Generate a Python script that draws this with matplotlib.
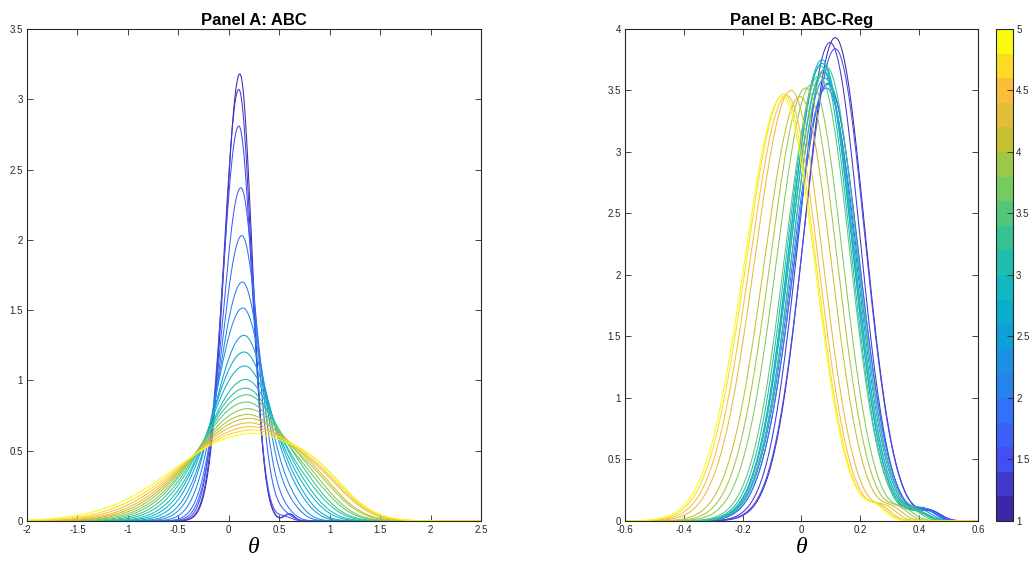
import numpy as np
import matplotlib
matplotlib.use("Agg")
import matplotlib.pyplot as plt
from matplotlib.colors import LinearSegmentedColormap, ListedColormap, Normalize
from matplotlib.cm import ScalarMappable

# ---------------- data ----------------
levels = [1.0, 1.2, 1.4, 1.6, 1.8, 2.0, 2.2, 2.4, 2.6, 2.8, 3.0,
          3.2, 3.4, 3.6, 3.8, 4.0, 4.2, 4.4, 4.6, 4.8, 5.0]

# Panel A: ABC  (peak height, peak location, left/right spread, right shoulder)
a_height = [3.18, 3.07, 2.81, 2.37, 2.03, 1.70, 1.515, 1.32, 1.20, 1.10, 1.00,
            0.94, 0.89, 0.84, 0.79, 0.75, 0.72, 0.69, 0.66, 0.635, 0.61]
a_center = [0.11, 0.10, 0.10, 0.12, 0.13, 0.135, 0.14, 0.15, 0.15, 0.155, 0.16,
            0.16, 0.165, 0.165, 0.17, 0.17, 0.175, 0.175, 0.18, 0.18, 0.18]
a_left = [0.15, 0.15, 0.16, 0.18, 0.20, 0.23, 0.26, 0.29, 0.32, 0.35, 0.38,
          0.41, 0.44, 0.47, 0.50, 0.53, 0.56, 0.59, 0.63, 0.67, 0.72]
a_right = [0.12, 0.125, 0.13, 0.15, 0.17, 0.20, 0.22, 0.25, 0.27, 0.29, 0.31,
           0.33, 0.35, 0.37, 0.39, 0.41, 0.43, 0.45, 0.47, 0.49, 0.50]
a_sh_height = [0.05, 0.05, 0.03, 0.04, 0.05, 0.07, 0.09, 0.10, 0.11, 0.12, 0.13,
               0.14, 0.15, 0.16, 0.17, 0.18, 0.18, 0.19, 0.19, 0.20, 0.20]
a_sh_center = [0.60, 0.60, 0.55, 0.55, 0.55, 0.60, 0.60, 0.65, 0.65, 0.70, 0.70,
               0.75, 0.75, 0.80, 0.80, 0.85, 0.85, 0.90, 0.90, 0.90, 0.90]
a_sh_width = [0.05, 0.05, 0.07, 0.08, 0.10, 0.12, 0.14, 0.16, 0.18, 0.20, 0.22,
              0.23, 0.24, 0.25, 0.26, 0.27, 0.28, 0.29, 0.30, 0.30, 0.30]

# Panel B: ABC-Reg
b_height = [3.93, 3.89, 3.84, 3.55, 3.52, 3.56, 3.60, 3.65, 3.72, 3.75, 3.70,
            3.66, 3.69, 3.62, 3.55, 3.52, 3.45, 3.50, 3.46, 3.47, 3.45]
b_center = [0.115, 0.097, 0.115, 0.09, 0.085, 0.09, 0.08, 0.075, 0.07, 0.07, 0.065,
            0.075, 0.085, 0.06, 0.035, 0.015, -0.005, -0.035, -0.05, -0.06, -0.065]
b_left = [0.105, 0.105, 0.107, 0.112, 0.113, 0.112, 0.112, 0.112, 0.110, 0.110, 0.112,
          0.113, 0.113, 0.115, 0.118, 0.120, 0.122, 0.124, 0.126, 0.128, 0.130]
b_right = [0.100, 0.100, 0.100, 0.105, 0.105, 0.105, 0.104, 0.103, 0.102, 0.102, 0.102,
           0.103, 0.103, 0.104, 0.105, 0.106, 0.107, 0.108, 0.108, 0.109, 0.110]
b_sh_height = [0.07, 0.07, 0.07, 0.08, 0.08, 0.08, 0.07, 0.06, 0.06, 0.06, 0.06,
               0.06, 0.06, 0.07, 0.07, 0.08, 0.08, 0.09, 0.09, 0.09, 0.09]
b_sh_center = [0.44, 0.43, 0.44, 0.43, 0.42, 0.42, 0.41, 0.40, 0.40, 0.39, 0.39,
               0.39, 0.39, 0.37, 0.35, 0.33, 0.31, 0.29, 0.27, 0.26, 0.25]
b_sh_width = [0.035, 0.035, 0.035, 0.035, 0.035, 0.035, 0.035, 0.035, 0.035, 0.035, 0.035,
              0.035, 0.035, 0.035, 0.035, 0.035, 0.035, 0.035, 0.035, 0.035, 0.035]

a_xticks = [-2, -1.5, -1, -0.5, 0, 0.5, 1, 1.5, 2, 2.5]
a_yticks = [0, 0.5, 1, 1.5, 2, 2.5, 3, 3.5]
b_xticks = [-0.6, -0.4, -0.2, 0, 0.2, 0.4, 0.6]
b_yticks = [0, 0.5, 1, 1.5, 2, 2.5, 3, 3.5, 4]
cb_ticks = [1, 1.5, 2, 2.5, 3, 3.5, 4, 4.5, 5]

# ---------------- style ----------------
plt.rcParams['font.family'] = ['Liberation Sans', 'DejaVu Sans']
parula_anchors = [
    (0.00, (0.2422, 0.1504, 0.6603)),
    (0.10, (0.2717, 0.3015, 0.9500)),
    (0.20, (0.2000, 0.4400, 0.9900)),
    (0.30, (0.1100, 0.5600, 0.9000)),
    (0.40, (0.0400, 0.6600, 0.8200)),
    (0.50, (0.0800, 0.7350, 0.7250)),
    (0.60, (0.2400, 0.7700, 0.5400)),
    (0.70, (0.5000, 0.8000, 0.3500)),
    (0.80, (0.8000, 0.7500, 0.1800)),
    (0.90, (0.9900, 0.7400, 0.2400)),
    (1.00, (0.9763, 0.9831, 0.0538)),
]
parula = LinearSegmentedColormap.from_list('parula', parula_anchors)
disc = ListedColormap(parula(np.linspace(0, 1, 20)))
norm = Normalize(vmin=1, vmax=5)
TXT = '#262626'


def curve(x, h, c, sl, sr, hs, cs, ss):
    s = np.where(x < c, sl, sr)
    return h * np.exp(-0.5 * ((x - c) / s) ** 2) + hs * np.exp(-0.5 * ((x - cs) / ss) ** 2)


fig = plt.figure(figsize=(10.33, 5.65), dpi=100)
axA = fig.add_axes([0.0261, 0.0779, 0.4395, 0.8708])
axB = fig.add_axes([0.6050, 0.0779, 0.3417, 0.8708])
cax = fig.add_axes([0.9640, 0.0779, 0.0170, 0.8708])


def style(ax):
    for sp in ax.spines.values():
        sp.set_color(TXT)
        sp.set_linewidth(0.8)
    ax.tick_params(direction='in', length=4, width=0.6, colors=TXT,
                   labelsize=7, top=True, right=True)
    ax.tick_params(axis='x', pad=3)
    ax.tick_params(axis='y', pad=3)


theta_font = dict(family=['Liberation Serif', 'DejaVu Serif'], style='italic', size=17)

xa = np.linspace(-2, 2.5, 900)
for i, lv in enumerate(levels):
    ya = curve(xa, a_height[i], a_center[i], a_left[i], a_right[i],
               a_sh_height[i], a_sh_center[i], a_sh_width[i])
    axA.plot(xa, ya, color=parula(norm(lv)), lw=0.75)
axA.set_xlim(-2, 2.5)
axA.set_ylim(0, 3.5)
axA.set_xticks(a_xticks)
axA.set_xticklabels([f'{t:g}' for t in a_xticks])
axA.set_yticks(a_yticks)
axA.set_yticklabels([f'{t:g}' for t in a_yticks])
style(axA)
axA.set_title('Panel A: ABC', fontsize=12, fontweight='bold', pad=3)
axA.set_xlabel('θ', fontdict=theta_font, labelpad=1)

xb = np.linspace(-0.6, 0.6, 900)
for i, lv in enumerate(levels):
    yb = curve(xb, b_height[i], b_center[i], b_left[i], b_right[i],
               b_sh_height[i], b_sh_center[i], b_sh_width[i])
    axB.plot(xb, yb, color=parula(norm(lv)), lw=0.75)
axB.set_xlim(-0.6, 0.6)
axB.set_ylim(0, 4)
axB.set_xticks(b_xticks)
axB.set_xticklabels([f'{t:g}' for t in b_xticks])
axB.set_yticks(b_yticks)
axB.set_yticklabels([f'{t:g}' for t in b_yticks])
style(axB)
axB.set_title('Panel B: ABC-Reg', fontsize=12, fontweight='bold', pad=3)
axB.set_xlabel('θ', fontdict=theta_font, labelpad=1)

sm = ScalarMappable(norm=norm, cmap=disc)
cb = fig.colorbar(sm, cax=cax, ticks=cb_ticks)
cb.ax.set_yticklabels([f'{t:g}' for t in cb_ticks])
cb.ax.tick_params(direction='in', length=4, width=0.6, colors=TXT, labelsize=7, pad=2)
cb.outline.set_edgecolor(TXT)
cb.outline.set_linewidth(0.8)

fig.savefig('out.png', dpi=100)
